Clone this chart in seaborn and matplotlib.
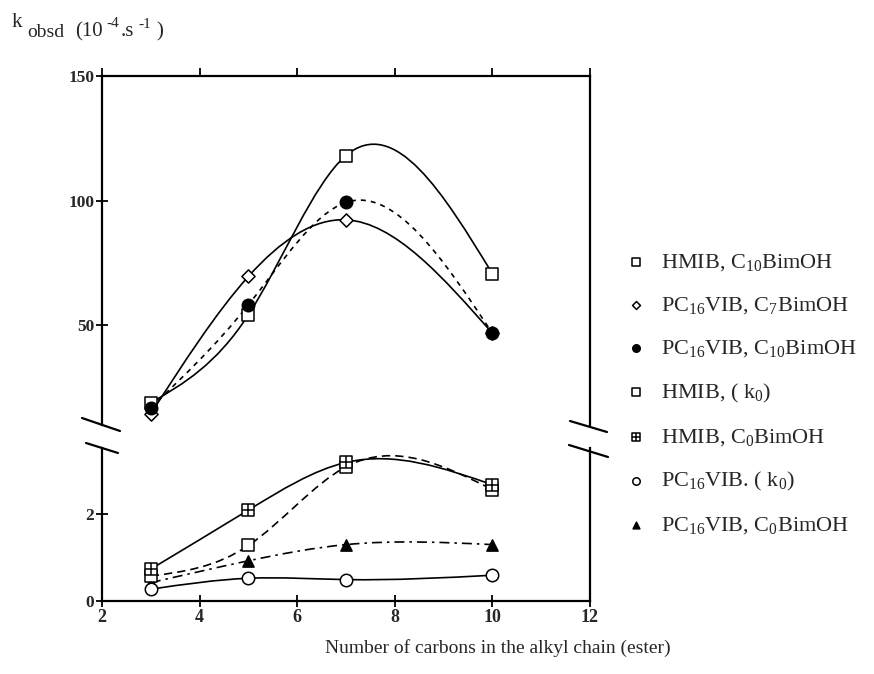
import matplotlib
matplotlib.use("Agg")
import matplotlib.pyplot as plt
import seaborn as sns
import numpy as np
import pandas as pd
from matplotlib.lines import Line2D
from matplotlib.path import Path
from matplotlib.patches import PathPatch
from matplotlib.legend_handler import HandlerTuple

# ---------------- data ----------------
carbons = [3, 5, 7, 10]
# upper panel (10^-4 s^-1)
hmib_c10 = [18.9, 54.2, 118.1, 70.7]
pc16_c7 = [14.5, 69.6, 92.3, 46.8]
pc16_c10 = [17.0, 58.2, 99.3, 46.8]
# lower panel
hmib_k0 = [0.57, 1.27, 3.07, 2.55]
hmib_c0 = [0.73, 2.08, 3.17, 2.66]
pc16_k0 = [0.27, 0.52, 0.49, 0.59]
pc16_c0 = [0.42, 0.92, 1.29, 1.29]

labels = [
    r"HMIB, C$_{\mathrm{10}}$BimOH",
    r"PC$_{\mathrm{16}}$VIB, C$_{\mathrm{7}}$BimOH",
    r"PC$_{\mathrm{16}}$VIB, C$_{\mathrm{10}}$BimOH",
    r"HMIB, ( k$_{\mathrm{0}}$)",
    r"HMIB, C$_{\mathrm{0}}$BimOH",
    r"PC$_{\mathrm{16}}$VIB. ( k$_{\mathrm{0}}$)",
    r"PC$_{\mathrm{16}}$VIB, C$_{\mathrm{0}}$BimOH",
]
xticks = [2, 4, 6, 8, 10, 12]
yticks_top = [50, 100, 150]
yticks_bot = [0, 2]

# ---------------- style ----------------
sns.set_style("white")
plt.rcParams["font.family"] = ["Liberation Serif", "DejaVu Serif"]
plt.rcParams["mathtext.fontset"] = "custom"
plt.rcParams["mathtext.rm"] = "Liberation Serif"
plt.rcParams["mathtext.it"] = "Liberation Serif:italic"
plt.rcParams["mathtext.bf"] = "Liberation Serif:bold"

W, H = 874, 674
fig = plt.figure(figsize=(W / 100, H / 100), dpi=100)
L, R = 102 / W, 590 / W
ax_t = fig.add_axes([L, 1 - 425 / H, R - L, (425 - 76) / H])
ax_b = fig.add_axes([L, 1 - 601 / H, R - L, (601 - 448) / H])


def spline_curve(ax, xs, ys, ls):
    """Smooth connecting line (natural cubic spline) drawn as Bezier path."""
    x = np.asarray(xs, float)
    y = np.asarray(ys, float)
    n = len(x)
    h = np.diff(x)
    A = np.zeros((n, n))
    b = np.zeros(n)
    A[0, 0] = A[-1, -1] = 1.0
    for i in range(1, n - 1):
        A[i, i - 1] = h[i - 1]
        A[i, i] = 2 * (h[i - 1] + h[i])
        A[i, i + 1] = h[i]
        b[i] = 6 * ((y[i + 1] - y[i]) / h[i] - (y[i] - y[i - 1]) / h[i - 1])
    M = np.linalg.solve(A, b)
    d = np.zeros(n)
    for i in range(n - 1):
        d[i] = (y[i + 1] - y[i]) / h[i] - h[i] * (2 * M[i] + M[i + 1]) / 6
    d[-1] = (y[-1] - y[-2]) / h[-1] + h[-1] * (M[-2] + 2 * M[-1]) / 6
    verts = [(x[0], y[0])]
    codes = [Path.MOVETO]
    for i in range(n - 1):
        verts += [(x[i] + h[i] / 3, y[i] + d[i] * h[i] / 3),
                  (x[i + 1] - h[i] / 3, y[i + 1] - d[i + 1] * h[i] / 3),
                  (x[i + 1], y[i + 1])]
        codes += [Path.CURVE4] * 3
    patch = PathPatch(Path(verts, codes), fill=False, edgecolor="black",
                      lw=1.2, linestyle=ls, zorder=2)
    ax.add_patch(patch)


def pts(ax, y, marker, fc, s, z=4, lw=1.1):
    df = pd.DataFrame({"x": carbons, "y": y})
    sns.scatterplot(data=df, x="x", y="y", ax=ax, marker=marker, s=s,
                    facecolor=fc, edgecolor="black", linewidth=lw,
                    zorder=z, legend=False)
    return ax.collections[-1]


# upper panel
spline_curve(ax_t, carbons, hmib_c10, "-")
spline_curve(ax_t, carbons, pc16_c7, "-")
spline_curve(ax_t, carbons, pc16_c10, (0, (3, 3)))
h1 = pts(ax_t, hmib_c10, "s", "white", 80)
h2 = pts(ax_t, pc16_c7, "D", "white", 45)
h3 = pts(ax_t, pc16_c10, "o", "black", 80)

# lower panel
spline_curve(ax_b, carbons, hmib_k0, (0, (5, 3)))
spline_curve(ax_b, carbons, hmib_c0, "-")
spline_curve(ax_b, carbons, pc16_k0, "-")
spline_curve(ax_b, carbons, pc16_c0, (0, (6, 3, 1.5, 3)))
h7 = pts(ax_b, pc16_c0, "^", "black", 65, z=3)
h4 = pts(ax_b, hmib_k0, "s", "white", 80, z=4)
h5a = pts(ax_b, hmib_c0, "s", "white", 80, z=5)
h5b = ax_b.scatter(carbons, hmib_c0, marker="+", s=80, color="black",
                   linewidths=1.1, zorder=6)
h6 = pts(ax_b, pc16_k0, "o", "white", 80, z=4)

# axes formatting
for ax in (ax_t, ax_b):
    ax.set_xlim(2, 12)
    ax.set_xlabel("")
    ax.set_ylabel("")
    for sp in ax.spines.values():
        sp.set_linewidth(1.6)
        sp.set_color("black")

ax_t.set_ylim(10, 150)
ax_t.spines["bottom"].set_visible(False)
ax_t.set_yticks(yticks_top)
ax_t.set_xticks(xticks)
ax_t.tick_params(axis="x", bottom=False, labelbottom=False, top=True,
                 direction="out", length=6, width=1.3, color="black")
ax_t.tick_params(axis="y", left=True, right=False, direction="inout",
                 length=9, width=1.3, color="black", labelsize=12.5, pad=1)

ax_b.set_ylim(0, 3.5)
ax_b.spines["top"].set_visible(False)
ax_b.set_yticks(yticks_bot)
ax_b.set_xticks(xticks)
ax_b.tick_params(axis="x", bottom=True, direction="inout", length=9,
                 width=1.3, color="black", labelsize=13, pad=1)
ax_b.tick_params(axis="y", left=True, direction="inout", length=9,
                 width=1.3, color="black", labelsize=12.5, pad=1)
for ax in (ax_t, ax_b):
    for t in ax.get_xticklabels() + ax.get_yticklabels():
        t.set_fontweight("bold")

# break marks
for (x0, y0, x1, y1) in [(82, 418, 120, 431), (86, 443, 118, 453),
                         (570, 421, 607, 432), (569, 445, 608, 457)]:
    fig.add_artist(Line2D([x0 / W, x1 / W], [1 - y0 / H, 1 - y1 / H],
                          color="black", lw=1.6))

# y-axis title, written in pieces (main, subscript, superscripts)
ytitle = [("k", 12, 27, 15), ("obsd", 27, 37, 14), ("(10", 75, 36, 15),
          ("-4", 106, 27, 11), (".s", 121, 36, 15), ("-1", 138, 28, 11),
          (")", 156, 36, 15)]
for txt, px, py, fs in ytitle:
    fig.text(px / W, 1 - py / H, txt, fontsize=fs, ha="left", va="baseline")

fig.text(325 / W, 1 - 648 / H, "Number of carbons in the alkyl chain (ester)",
         fontsize=14, va="center", ha="left")

handles = [h1, h2, h3, h4, (h5a, h5b), h6, h7]
fig.legend(handles, labels, loc="upper left",
           bbox_to_anchor=(605 / W, 1 - 232 / H), frameon=False,
           fontsize=16, labelspacing=1.0, handlelength=1.0,
           handletextpad=0.6, markerscale=0.6,
           handler_map={tuple: HandlerTuple(ndivide=1, pad=0)})

fig.savefig("out.png", dpi=100)
